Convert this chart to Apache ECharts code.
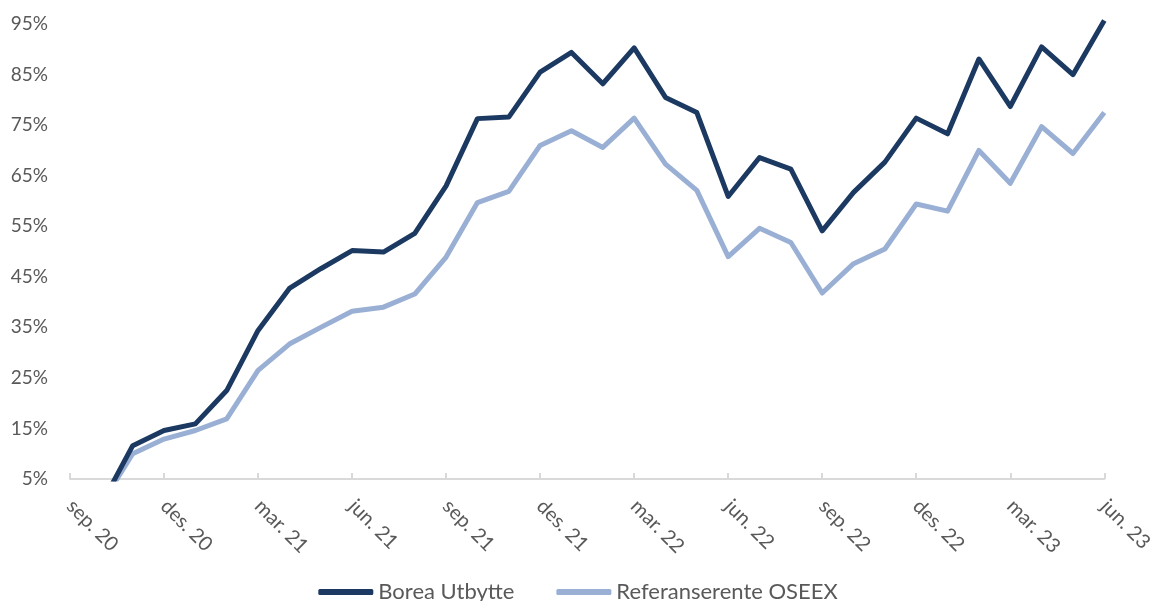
<!DOCTYPE html>
<html>
<head>
<meta charset="utf-8">
<script src="https://cdn.jsdelivr.net/npm/echarts@6/dist/echarts.min.js"></script>
<style>
  html, body { margin: 0; padding: 0; background: #fff; }
  #chart { width: 1156px; height: 601px; }
</style>
</head>
<body>
<div id="chart"></div>
<script>
// månedlige kategorier sep. 20 - jun. 23
var months = [
  'sep. 20', 'okt. 20', 'nov. 20', 'des. 20', 'jan. 21', 'feb. 21', 'mar. 21', 'apr. 21', 'mai. 21',
  'jun. 21', 'jul. 21', 'aug. 21', 'sep. 21', 'okt. 21', 'nov. 21', 'des. 21', 'jan. 22', 'feb. 22',
  'mar. 22', 'apr. 22', 'mai. 22', 'jun. 22', 'jul. 22', 'aug. 22', 'sep. 22', 'okt. 22', 'nov. 22',
  'des. 22', 'jan. 23', 'feb. 23', 'mar. 23', 'apr. 23', 'mai. 23', 'jun. 23'
];

// avkastning i prosent (første måned uten verdi)
var borea = [
  null, 0, 11.6, 14.6, 15.9, 22.5, 34.4, 42.7, 46.6, 50.2, 49.9, 53.6, 63.0, 76.3, 76.6, 85.5, 89.4,
  83.2, 90.3, 80.5, 77.5, 60.9, 68.6, 66.3, 54.1, 61.7, 67.7, 76.4, 73.3, 88.1, 78.7, 90.5, 85.0, 95.7
];
var oseex = [
  null, 0, 10.0, 12.9, 14.6, 16.9, 26.5, 31.7, 35.0, 38.2, 39.0, 41.6, 48.9, 59.7, 61.9, 71.0, 73.9,
  70.6, 76.4, 67.3, 62.1, 49.0, 54.6, 51.8, 41.8, 47.6, 50.5, 59.4, 58.0, 70.0, 63.5, 74.7, 69.4, 77.5
];

var seriesNames = ['Borea Utbytte', 'Referanserente OSEEX'];
var colors = ['#1b3961', '#9aafd4'];

var myChart = echarts.init(document.getElementById('chart'));
var fontFamily = 'Lato, "DejaVu Sans", sans-serif';

var option = {
  animation: false,
  color: colors,
  textStyle: { fontFamily: fontFamily },
  grid: {
    left: 70,
    right: 46,
    top: 14,
    bottom: 122,
    containLabel: false
  },
  legend: {
    data: seriesNames,
    left: 'center',
    top: 576,
    itemGap: 42,
    itemWidth: 55,
    itemHeight: 6,
    icon: 'roundRect',
    textStyle: { color: '#595959', fontSize: 22, fontFamily: fontFamily }
  },
  xAxis: {
    type: 'category',
    data: months,
    boundaryGap: false,
    axisLine: { lineStyle: { color: '#d9d9d9', width: 2 } },
    axisTick: { show: true, inside: true, length: 6, interval: 2, lineStyle: { color: '#d9d9d9', width: 2 } },
    axisLabel: {
      interval: 2,
      rotate: -45,
      margin: 24,
      color: '#595959',
      fontSize: 20,
      fontFamily: fontFamily
    },
    splitLine: { show: false }
  },
  yAxis: {
    type: 'value',
    min: 5,
    max: 97,
    interval: 10,
    axisLine: { show: false },
    axisTick: { show: false },
    splitLine: { show: false },
    axisLabel: {
      // bare 5, 15, ... 95 vises
      formatter: function (v) { return (v - 5) % 10 === 0 ? v + '%' : ''; },
      margin: 22,
      color: '#595959',
      fontSize: 19,
      fontFamily: fontFamily
    }
  },
  series: [
    {
      name: seriesNames[0],
      type: 'line',
      data: borea,
      showSymbol: false,
      symbol: 'none',
      clip: true,
      lineStyle: { width: 5, color: colors[0], join: 'round' },
      z: 3
    },
    {
      name: seriesNames[1],
      type: 'line',
      data: oseex,
      showSymbol: false,
      symbol: 'none',
      clip: true,
      lineStyle: { width: 5, color: colors[1], join: 'round' },
      z: 2
    }
  ]
};

option && myChart.setOption(option);
</script>
</body>
</html>
